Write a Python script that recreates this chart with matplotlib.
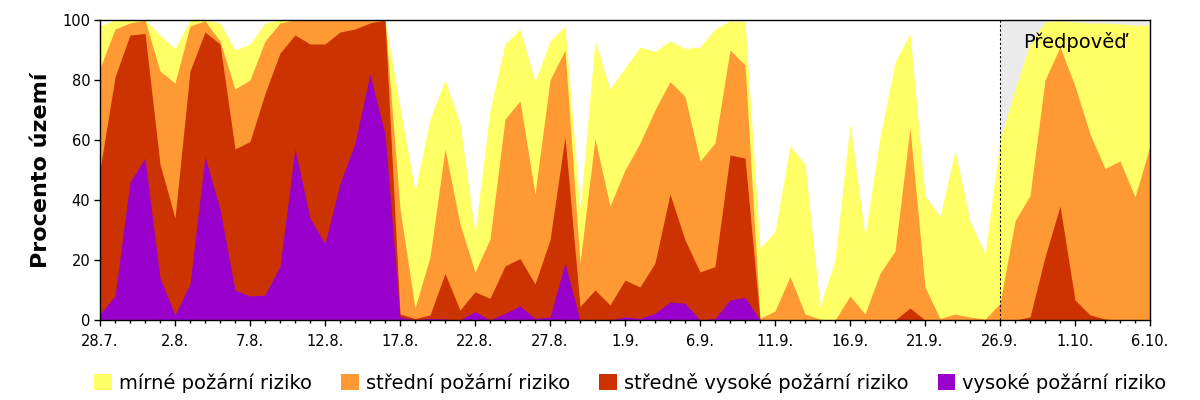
import matplotlib.pyplot as plt
import numpy as np

# daily values, 28.7. - 6.10. (share of territory in %, cumulative from highest risk)
mirne = [98, 100, 100, 100, 95, 90.5, 100, 100, 99, 90,
         92, 99, 100, 100, 100, 100, 100, 100, 100, 100,
         71, 43, 67, 80, 65.5, 29, 70, 92, 97, 79.5,
         93, 98, 37, 93, 77, 84, 91, 89.5, 93, 90.5,
         91, 97, 99.7, 99.5, 24, 29.5, 58, 52, 4.5, 20,
         65.5, 28, 61, 86, 95.5, 41.5, 34.5, 56.5, 33, 22,
         60, 77, 92, 99.4, 99.7, 99.4, 99, 99, 98.7, 98.3,
         98.3]
stredni = [84, 97, 99, 100, 83, 79, 98, 99.7, 93, 77,
           80, 93, 99, 100, 100, 100, 100, 100, 100, 100,
           37, 4, 21, 57, 32, 16, 27, 67, 73, 42,
           80, 90, 19, 60.5, 38, 50, 59, 70, 79.5, 74.5,
           53, 59, 90, 85, 0.5, 3, 14.5, 2, 0.3, 0,
           8, 2, 15.5, 23, 64, 11, 0.5, 2, 1, 0.3,
           5.5, 33, 41.5, 80, 91, 78, 62, 50.5, 53, 41,
           58]
stredne_vysoke = [50, 81, 95, 95.5, 52, 34, 83, 96, 92, 57,
                  59.5, 75.5, 89, 95, 92, 92, 96, 97, 99, 100,
                  2, 0.5, 1.7, 15.5, 3.3, 9.4, 7.2, 18, 20.5, 12,
                  26.7, 61, 4.5, 10, 5, 13.3, 11, 19, 42, 26.7,
                  16, 17.8, 55, 54, 0, 0, 0, 0, 0, 0,
                  0, 0, 0, 0, 4, 0, 0, 0, 0, 0,
                  0, 0, 1, 21, 38, 6.7, 1.7, 0.3, 0, 0,
                  0]
vysoke = [2, 8, 46, 54, 14, 1.7, 12, 54.5, 37, 10,
          8, 8.3, 18, 57, 34, 25.5, 45.5, 59, 82, 62,
          1, 0, 0.5, 0.3, 0, 2.8, 0, 2.2, 4.7, 0.5,
          1, 19, 0, 0, 0, 1, 0.5, 2.2, 6, 5.6,
          0, 0.5, 6.7, 7.5, 0, 0, 0, 0, 0, 0,
          0, 0, 0, 0, 0, 0, 0, 0, 0, 0,
          0, 0, 0, 0, 0, 0, 0, 0, 0, 0,
          0]

tick_labels = ["28.7.", "2.8.", "7.8.", "12.8.", "17.8.", "22.8.", "27.8.", "1.9.",
               "6.9.", "11.9.", "16.9.", "21.9.", "26.9.", "1.10.", "6.10."]
nazvy = ["mírné požární riziko", "střední požární riziko",
         "středně vysoké požární riziko", "vysoké požární riziko"]
barvy = ["#FFFF66", "#FF9933", "#CC3300", "#9900CC"]
zacatek_predpovedi = 60

dny = np.arange(len(mirne))

fig = plt.figure(figsize=(12, 4), dpi=100)
ax = fig.add_axes([100 / 1200, 80 / 400, 1050 / 1200, 300 / 400])

ax.axvspan(zacatek_predpovedi, dny[-1], color="#EBEBEB", lw=0, zorder=0)
for rada, barva, nazev in zip([mirne, stredni, stredne_vysoke, vysoke], barvy, nazvy):
    ax.fill_between(dny, 0, rada, color=barva, lw=0, label=nazev, zorder=1)
ax.axvline(zacatek_predpovedi, color="black", lw=0.8, ls=(0, (2, 2)), zorder=3)
ax.text(65.0, 92.5, "Předpověď", fontsize=14, ha="center", va="center", zorder=4)

ax.set_xlim(0, dny[-1])
ax.set_ylim(0, 100)
ax.set_xticks(dny[::5])
ax.set_xticklabels(tick_labels)
ax.set_xticks(dny, minor=True)
ax.set_yticks(range(0, 101, 20))
ax.tick_params(axis="both", which="major", labelsize=10.5, length=4, width=1)
ax.tick_params(axis="x", which="minor", length=2.5, width=1)
ax.tick_params(axis="y", pad=3)
ax.tick_params(axis="x", pad=6)
for s in ax.spines.values():
    s.set_linewidth(1)
    s.set_zorder(5)

ax.set_ylabel("Procento území", fontsize=16, fontweight="bold")
ax.yaxis.set_label_coords(-0.047, 0.5)

ax.legend(loc="center", bbox_to_anchor=(0.505, -0.21), ncol=4, frameon=False,
          fontsize=14, handlelength=0.92, handleheight=0.92, handletextpad=0.35,
          columnspacing=1.5)

fig.savefig("out.png", dpi=100)
